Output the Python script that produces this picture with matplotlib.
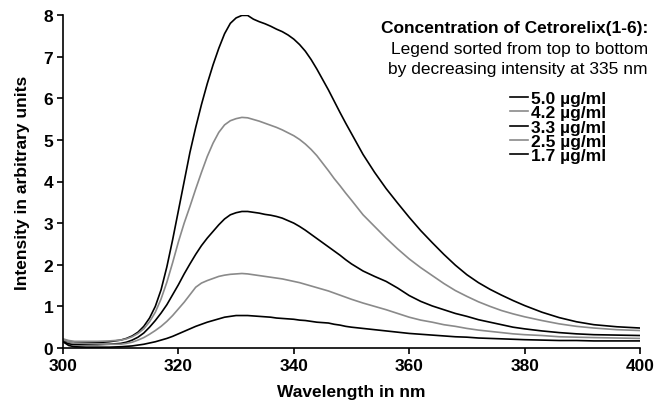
import numpy as np
import matplotlib
matplotlib.use("Agg")
import matplotlib.pyplot as plt

plt.rcParams["font.family"] = ["Liberation Sans", "DejaVu Sans"]

# Emission wavelengths (nm)
wavelength = [300, 301, 302, 304, 306, 308, 310,
              311, 312, 313, 314, 315, 316, 317, 318, 319, 320,
              321, 322, 323, 324, 325, 326, 327, 328, 329, 330,
              331, 332, 333, 334, 335, 336, 337, 338, 339, 340,
              341, 342, 343, 344, 345, 346, 347, 348, 349, 350,
              352, 354, 356, 358, 360, 362, 364, 366, 368, 370,
              372, 374, 376, 378, 380, 383, 386, 389, 392, 396, 400]

# Fluorescence intensity for each concentration
conc_5_0 = [0.18, 0.15, 0.13, 0.13, 0.13, 0.15, 0.19,
            0.23, 0.29, 0.38, 0.52, 0.72, 1.00, 1.40, 1.95, 2.60, 3.30,
            4.00, 4.70, 5.30, 5.85, 6.35, 6.80, 7.20, 7.55, 7.80, 7.93,
            7.99, 7.99, 7.90, 7.84, 7.79, 7.73, 7.66, 7.60, 7.52, 7.42,
            7.29, 7.13, 6.93, 6.70, 6.45, 6.20, 5.93, 5.66, 5.40, 5.15,
            4.65, 4.22, 3.83, 3.48, 3.14, 2.82, 2.53, 2.25, 1.99, 1.76,
            1.57, 1.41, 1.27, 1.14, 1.02, 0.86, 0.73, 0.63, 0.56, 0.51, 0.48]
conc_4_2 = [0.22, 0.18, 0.16, 0.16, 0.16, 0.17, 0.19,
            0.22, 0.27, 0.35, 0.46, 0.63, 0.86, 1.18, 1.58, 2.05, 2.55,
            3.00, 3.40, 3.82, 4.22, 4.60, 4.92, 5.18, 5.36, 5.46, 5.51,
            5.54, 5.53, 5.49, 5.45, 5.40, 5.35, 5.30, 5.24, 5.17, 5.10,
            5.01, 4.90, 4.77, 4.62, 4.44, 4.26, 4.07, 3.90, 3.72, 3.55,
            3.20, 2.92, 2.64, 2.38, 2.14, 1.93, 1.74, 1.55, 1.38, 1.24,
            1.11, 1.00, 0.90, 0.82, 0.75, 0.66, 0.58, 0.52, 0.48, 0.44, 0.42]
conc_3_3 = [0.15, 0.10, 0.08, 0.08, 0.08, 0.09, 0.11,
            0.14, 0.19, 0.26, 0.36, 0.50, 0.66, 0.84, 1.04, 1.28, 1.52,
            1.78, 2.02, 2.25, 2.46, 2.64, 2.80, 2.96, 3.10, 3.20, 3.25,
            3.28, 3.28, 3.26, 3.24, 3.21, 3.19, 3.16, 3.12, 3.06, 3.00,
            2.92, 2.83, 2.73, 2.63, 2.53, 2.43, 2.33, 2.23, 2.12, 2.02,
            1.85, 1.72, 1.60, 1.44, 1.26, 1.12, 1.01, 0.92, 0.83, 0.76,
            0.68, 0.62, 0.56, 0.50, 0.46, 0.41, 0.37, 0.34, 0.32, 0.31, 0.30]
conc_2_5 = [0.20, 0.15, 0.12, 0.11, 0.10, 0.09, 0.09,
            0.11, 0.14, 0.19, 0.25, 0.33, 0.42, 0.52, 0.64, 0.78, 0.94,
            1.10, 1.28, 1.46, 1.56, 1.62, 1.67, 1.72, 1.75, 1.77, 1.78,
            1.79, 1.78, 1.76, 1.74, 1.72, 1.70, 1.68, 1.66, 1.63, 1.60,
            1.57, 1.53, 1.49, 1.45, 1.41, 1.37, 1.32, 1.27, 1.22, 1.17,
            1.08, 1.00, 0.92, 0.83, 0.74, 0.67, 0.62, 0.56, 0.52, 0.47,
            0.43, 0.40, 0.37, 0.34, 0.32, 0.30, 0.27, 0.26, 0.25, 0.24, 0.23]
conc_1_7 = [0.15, 0.06, 0.03, 0.02, 0.02, 0.02, 0.03,
            0.04, 0.05, 0.07, 0.09, 0.12, 0.15, 0.19, 0.23, 0.28, 0.34,
            0.40, 0.46, 0.52, 0.57, 0.62, 0.66, 0.70, 0.74, 0.76, 0.78,
            0.78, 0.78, 0.77, 0.76, 0.75, 0.74, 0.72, 0.71, 0.70, 0.69,
            0.67, 0.66, 0.64, 0.62, 0.61, 0.60, 0.57, 0.55, 0.52, 0.50,
            0.47, 0.44, 0.41, 0.38, 0.35, 0.33, 0.31, 0.29, 0.27, 0.26,
            0.24, 0.23, 0.22, 0.21, 0.20, 0.19, 0.18, 0.18, 0.17, 0.17, 0.17]

labels = ["5.0 µg/ml", "4.2 µg/ml", "3.3 µg/ml", "2.5 µg/ml", "1.7 µg/ml"]
series = [conc_5_0, conc_4_2, conc_3_3, conc_2_5, conc_1_7]
colors = ["black", "#8a8a8a", "black", "#8a8a8a", "black"]

x_ticks = [300, 320, 340, 360, 380, 400]
y_ticks = [0, 1, 2, 3, 4, 5, 6, 7, 8]

FS = 12.5

fig = plt.figure(figsize=(6.66, 4.02), dpi=100)
ax = fig.add_axes([63 / 666, 1 - 349 / 402, (640 - 63) / 666, (349 - 16) / 402])

for vals, lab, col in zip(series, labels, colors):
    ax.plot(wavelength, vals, color=col, lw=1.2, label=lab, solid_joinstyle="round")

ax.set_xlim(300, 400)
ax.set_ylim(0, 8)
ax.set_xticks(x_ticks)
ax.set_yticks(y_ticks)
for side in ("top", "right"):
    ax.spines[side].set_visible(False)
for side in ("left", "bottom"):
    ax.spines[side].set_linewidth(1.2)
ax.tick_params(direction="out", length=4, width=1.2, labelsize=FS, pad=3)
for lbl in ax.get_xticklabels() + ax.get_yticklabels():
    lbl.set_fontweight("bold")

ax.set_xlabel("Wavelength in nm", fontsize=FS, fontweight="bold", labelpad=8)
ax.set_ylabel("Intensity in arbitrary units", fontsize=FS, fontweight="bold", labelpad=10)

fig.text(648 / 666, 1 - 33 / 402, "Concentration of Cetrorelix(1-6):", ha="right",
         va="baseline", fontsize=FS, fontweight="bold")
fig.text(648 / 666, 1 - 54 / 402, "Legend sorted from top to bottom", ha="right",
         va="baseline", fontsize=FS)
fig.text(648 / 666, 1 - 74 / 402, "by decreasing intensity at 335 nm", ha="right",
         va="baseline", fontsize=FS)

ax.legend(loc="upper left", bbox_to_anchor=(510 / 666, 1 - 92 / 402),
          bbox_transform=fig.transFigure, frameon=False, borderpad=0, borderaxespad=0,
          handlelength=1.05, handletextpad=0.17, labelspacing=-0.05,
          prop={"size": FS, "weight": "bold"})

fig.savefig("out.png", dpi=100)
